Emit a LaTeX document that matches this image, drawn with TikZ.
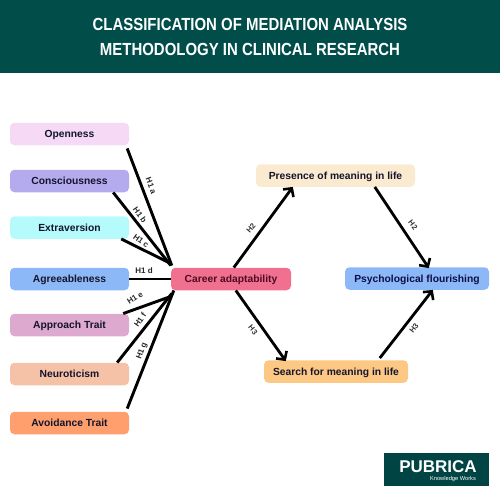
\documentclass[tikz,border=0pt]{standalone}
\usepackage{fontspec}
\setmainfont{Liberation Sans}
\usetikzlibrary{arrows.meta}
\definecolor{hdr}{HTML}{004D4A}
\definecolor{ink}{HTML}{14142B}
\tikzset{
 x=1pt,y=-1pt,
 box/.style={rounded corners=4.5pt,minimum height=22.5pt,inner sep=0pt,font=\fontsize{10.3}{12}\bfseries,text=ink,anchor=center,text height=7pt,text depth=0pt},
 wire/.style={line width=2.9pt,black},
 arrowline/.style={line width=2.8pt,black,-{Straight Barb[length=6pt,width=13pt,line width=2.6pt]}},
 tag/.style={font=\fontsize{8}{9}\bfseries,inner sep=0pt,text=black!85},
 tagthin/.style={font=\fontsize{7.6}{9}\bfseries,inner sep=0pt,text=black!80}
}
\begin{document}
\begin{tikzpicture}
\useasboundingbox (0,0) rectangle (500,500);
\fill[hdr] (0,0) rectangle (500,73);
\node[text=white,font=\fontsize{17.5}{25}\bfseries,align=center,xscale=0.855,transform shape,inner sep=0pt] (title) at (250,36.5) {CLASSIFICATION OF MEDIATION ANALYSIS\\METHODOLOGY IN CLINICAL RESEARCH};
\node[box,minimum width=119pt,fill={rgb,255:red,245;green,217;blue,245}] (open) at (69.5,134) {Openness};
\node[box,minimum width=119pt,fill={rgb,255:red,179;green,171;blue,238}] (cons) at (69.5,181) {Consciousness};
\node[box,minimum width=119pt,fill={rgb,255:red,181;green,251;blue,251}] (extra) at (69.5,227.5) {Extraversion};
\node[box,minimum width=119pt,fill={rgb,255:red,141;green,184;blue,248}] (agree) at (69.5,279) {Agreeableness};
\node[box,minimum width=119pt,fill={rgb,255:red,221;green,169;blue,207}] (appr) at (69.5,325) {Approach Trait};
\node[box,minimum width=119pt,fill={rgb,255:red,246;green,194;blue,167}] (neuro) at (69.5,374) {Neuroticism};
\node[box,minimum width=119pt,fill={rgb,255:red,255;green,159;blue,110}] (avoid) at (69.5,423) {Avoidance Trait};
\node[box,minimum width=120pt,fill={rgb,255:red,240;green,113;blue,143},text={rgb,255:red,80;green,10;blue,35}] (career) at (231,279) {Career adaptability};
\node[box,minimum width=159pt,fill={rgb,255:red,250;green,235;blue,208}] (pres) at (335.5,175.5) {Presence of meaning in life};
\node[box,minimum width=144pt,fill={rgb,255:red,141;green,184;blue,248},text={rgb,255:red,10;green,15;blue,70}] (psy) at (417,278.5) {Psychological flourishing};
\node[box,minimum width=144pt,fill={rgb,255:red,252;green,200;blue,131}] (srch) at (336,371.5) {Search for meaning in life};
% fan-in connectors
\draw[wire] ([xshift=-2pt,yshift=-3pt]open.south east) -- ([xshift=1pt,yshift=2pt]career.north west);
\draw[wire] ([xshift=-16pt]cons.south east) -- ([yshift=2pt]career.north west);
\draw[wire] ([xshift=-8pt]extra.south east) -- ([yshift=4pt]career.north west);
\draw[wire] (agree.east) -- (career.west);
\draw[wire] ([xshift=-6pt]appr.north east) -- ([yshift=-6pt]career.south west);
\draw[wire] ([xshift=-12pt]neuro.north east) -- ([xshift=1pt,yshift=-3pt]career.south west);
\draw[wire] ([xshift=-2pt,yshift=3pt]avoid.north east) -- ([xshift=3pt]career.south west);
% arrows
\draw[arrowline] ([xshift=63pt]career.north west) -- ([xshift=37pt]pres.south west);
\draw[arrowline] ([xshift=119pt]pres.south west) -- ([xshift=84pt,yshift=-1pt]psy.north west);
\draw[arrowline] ([xshift=65pt]career.south west) -- ([xshift=22pt,yshift=-1pt]srch.north west);
\draw[arrowline] ([xshift=116pt,yshift=2pt]srch.north west) -- ([xshift=88pt]psy.south west);
% labels
\node[tag,rotate=-70] (t1) at (151,186) {H1 a};
\node[tag,rotate=-55] (t2) at (140,215) {H1 b};
\node[tag,rotate=-35] (t3) at (141,241) {H1 c};
\node[tag] (t4) at (144,271) {H1 d};
\node[tag,rotate=33] (t5) at (135,298) {H1 e};
\node[tag,rotate=55] (t6) at (140,320) {H1 f};
\node[tag,rotate=70] (t7) at (142,351) {H1 g};
\node[tagthin,rotate=50] (t8) at (251,228) {H2};
\node[tagthin,rotate=-52] (t9) at (413,225) {H2};
\node[tagthin,rotate=-50] (t10) at (253,330) {H3};
\node[tagthin,rotate=52] (t11) at (414,328) {H3};
% logo
\fill[hdr!90!black] (384,453) rectangle (488.5,486);
\node[text=white,font=\fontsize{17}{19}\bfseries,inner sep=0pt] (logo) at (438,467) {PUBRICA};
\node[text=white,font=\fontsize{5.7}{6}\selectfont,inner sep=0pt] (logosub) at (453,479.5) {Knowledge Works};
\end{tikzpicture}
\end{document}
